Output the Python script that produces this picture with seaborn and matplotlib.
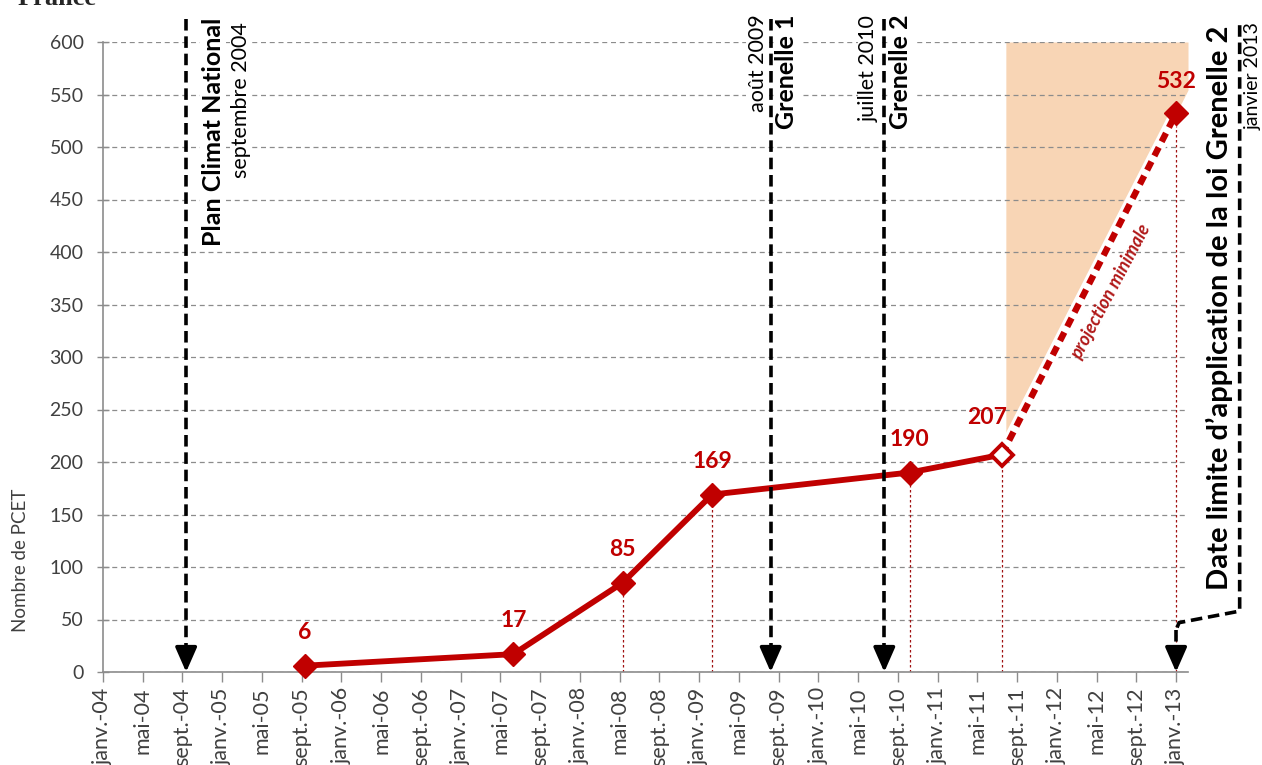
import numpy as np
import pandas as pd
import matplotlib
matplotlib.use("Agg")
import matplotlib.pyplot as plt
import seaborn as sns

# ---------------- data ----------------
obs_dates = ["2005-09-10", "2007-06-10", "2008-05-10", "2009-02-10", "2010-10-07", "2011-07-15"]
obs_values = [6, 17, 85, 169, 190, 207]
proj_date = "2013-01-01"
proj_value = 532
event_dates = ["2004-09-12", "2009-08-07", "2010-07-20", "2013-01-01"]
event_titles = ["Plan Climat National", "Grenelle 1", "Grenelle 2",
                "Date limite d\u2019application de la loi Grenelle 2"]
event_subtitles = ["septembre 2004", "ao\u00fbt 2009", "juillet 2010", "janvier 2013"]
tick_months = ["janv.", "mai", "sept."]
tick_years = list(range(2004, 2014))
y_ticks = list(range(0, 601, 50))
drop_line_from = 2  # vertical guide lines from the 3rd observation onward

RED = "#C00000"
GREY = "#8c8c8c"


def month_index(s):
    d = pd.Timestamp(s)
    return (d.year - 2004) * 12 + (d.month - 1) + (d.day - 1) / 30.0


obs_x = [month_index(s) for s in obs_dates]
proj_x = month_index(proj_date)
ev_x = [month_index(s) for s in event_dates]

df_obs = pd.DataFrame({"m": obs_x, "v": obs_values})
df_proj = pd.DataFrame({"m": [obs_x[-1], proj_x], "v": [obs_values[-1], proj_value]})

tick_pos = list(range(0, 12 * (len(tick_years) - 1) + 1, 4))
tick_lab = [f"{tick_months[i % 3]}-{str(tick_years[i // 3])[2:]}" for i in range(len(tick_pos))]

# ---------------- style ----------------
sns.set_style("white")
plt.rcParams["font.family"] = ["Lato", "DejaVu Sans"]

fig = plt.figure(figsize=(12.62, 7.65), dpi=100)
ax = fig.add_axes([103 / 1262, 93 / 765, 1085 / 1262, 630 / 765])

xmax = 109.2
ax.set_xlim(0, xmax)
ax.set_ylim(0, 600)

# shaded projection area
slope = (proj_value - obs_values[-1]) / (proj_x - obs_x[-1])
fx = np.array([obs_x[-1] + 0.4, xmax])
fy = obs_values[-1] + slope * (fx - obs_x[-1])
ax.fill_between(fx, fy, 600, color="#F8D5B5", lw=0, zorder=0.5)

# grid
ax.set_yticks(y_ticks)
ax.yaxis.grid(True, linestyle=(0, (4, 3)), color=GREY, lw=0.9, zorder=0.6)
ax.xaxis.grid(False)

# vertical red guide lines
for xv, yv in list(zip(obs_x, obs_values))[drop_line_from:] + [(proj_x, proj_value)]:
    ax.plot([xv, xv], [0, yv], color="#A01010", lw=0.9, ls=(0, (2, 2)), zorder=1)

# main observed line
sns.lineplot(data=df_obs, x="m", y="v", ax=ax, color=RED, lw=4.2, zorder=3, legend=False)
# projection: white halo + red dotted
ax.plot(df_proj["m"], df_proj["v"], color="white", lw=9, solid_capstyle="butt", zorder=2.8)
sns.lineplot(data=df_proj, x="m", y="v", ax=ax, color=RED, lw=4.6, zorder=3,
             linestyle=(0, (1.5, 1.0)), legend=False)

# markers
ax.plot(obs_x[:-1], obs_values[:-1], ls="none", marker="D", ms=12.5, color=RED, zorder=4, clip_on=False)
ax.plot([obs_x[-1]], [obs_values[-1]], ls="none", marker="D", ms=11, mfc="white", mec=RED,
        mew=2.8, zorder=4)
ax.plot([proj_x], [proj_value], ls="none", marker="D", ms=12.5, color=RED, zorder=4)

# value labels
offsets = [(0, 24)] * 5 + [(-11, 27)]
for xv, yv, off in zip(obs_x, obs_values, offsets):
    ax.annotate(str(yv), (xv, yv), xytext=off, textcoords="offset points", ha="center",
                va="center", color=RED, fontsize=16.5, fontweight="bold", zorder=6)
ax.annotate(str(proj_value), (proj_x, proj_value), xytext=(0, 23), textcoords="offset points",
            ha="center", va="center", color=RED, fontsize=16.5, fontweight="bold", zorder=6)

# projection label
ax.text(101.4, 362, "projection minimale", rotation=62, rotation_mode="anchor", ha="center",
        va="center", color="#B01818", fontsize=13, fontweight="bold", fontstyle="italic", zorder=6)

# event arrows
top_val = 622
dash = (0, (3.2, 1.6))
head = dict(arrowstyle="-|>,head_length=0.75,head_width=0.33", color="black", lw=2.6,
            mutation_scale=20, shrinkA=0, shrinkB=0)
for xv in ev_x[:-1]:
    ax.plot([xv, xv], [top_val, 20], color="black", lw=2.6, ls=dash, clip_on=False, zorder=5)
    ax.annotate("", xy=(xv, 0), xytext=(xv, 22), arrowprops=head, annotation_clip=False, zorder=5)

# last arrow (bent)
bend_x = 114.4
lx = ev_x[-1]
ax.plot([bend_x, bend_x, lx + 0.3, lx], [616, 58, 47, 40], color="black", lw=2.6, ls=dash,
        clip_on=False, zorder=5)
ax.plot([lx, lx], [40, 20], color="black", lw=2.6, ls=dash, clip_on=False, zorder=5)
ax.annotate("", xy=(lx, 0), xytext=(lx, 22), arrowprops=head, annotation_clip=False, zorder=5)

# event texts
box = dict(facecolor="white", edgecolor="none", pad=1.0)
title_pos = [(11.1, 623), (68.8, 626), (80.3, 626), (112.4, 616)]
sub_pos = [(13.9, 619), (65.9, 626), (77.1, 626), (115.8, 619)]
title_sizes = [18, 18, 18, 21]
sub_sizes = [15.5, 15.5, 15.5, 14]
for (tx, ty), (sx, sy), t, s, fs, ss in zip(title_pos, sub_pos, event_titles, event_subtitles,
                                            title_sizes, sub_sizes):
    ax.text(tx, ty, t, rotation=90, ha="center", va="top", fontsize=fs, fontweight="bold",
            color="black", bbox=box, clip_on=False, zorder=4.5)
    ax.text(sx, sy, s, rotation=90, ha="center", va="top", fontsize=ss,
            color="black", bbox=box, clip_on=False, zorder=4.5)

# axes styling
ax.set_xticks(tick_pos)
ax.set_xticklabels(tick_lab, rotation=90)
ax.tick_params(axis="x", direction="out", length=7, width=1, color=GREY, labelsize=15.5,
               labelcolor="#404040", pad=4, bottom=True)
ax.tick_params(axis="y", direction="inout", length=8, width=1, color=GREY, labelsize=14,
               labelcolor="#404040", pad=10, left=True)
for side in ["top", "right"]:
    ax.spines[side].set_visible(False)
for side in ["left", "bottom"]:
    ax.spines[side].set_color(GREY)
    ax.spines[side].set_linewidth(1.2)
ax.set_xlabel("")
ax.set_ylabel("Nombre de PCET", fontsize=13.5, color="#404040")
ax.yaxis.set_label_coords(-0.068, 0.178)

fig.text(18 / 1262, 1 - 5 / 765, "France", fontfamily="Liberation Serif", fontweight="bold",
         fontsize=19, va="baseline", ha="left")

fig.savefig("out.png", dpi=100)
